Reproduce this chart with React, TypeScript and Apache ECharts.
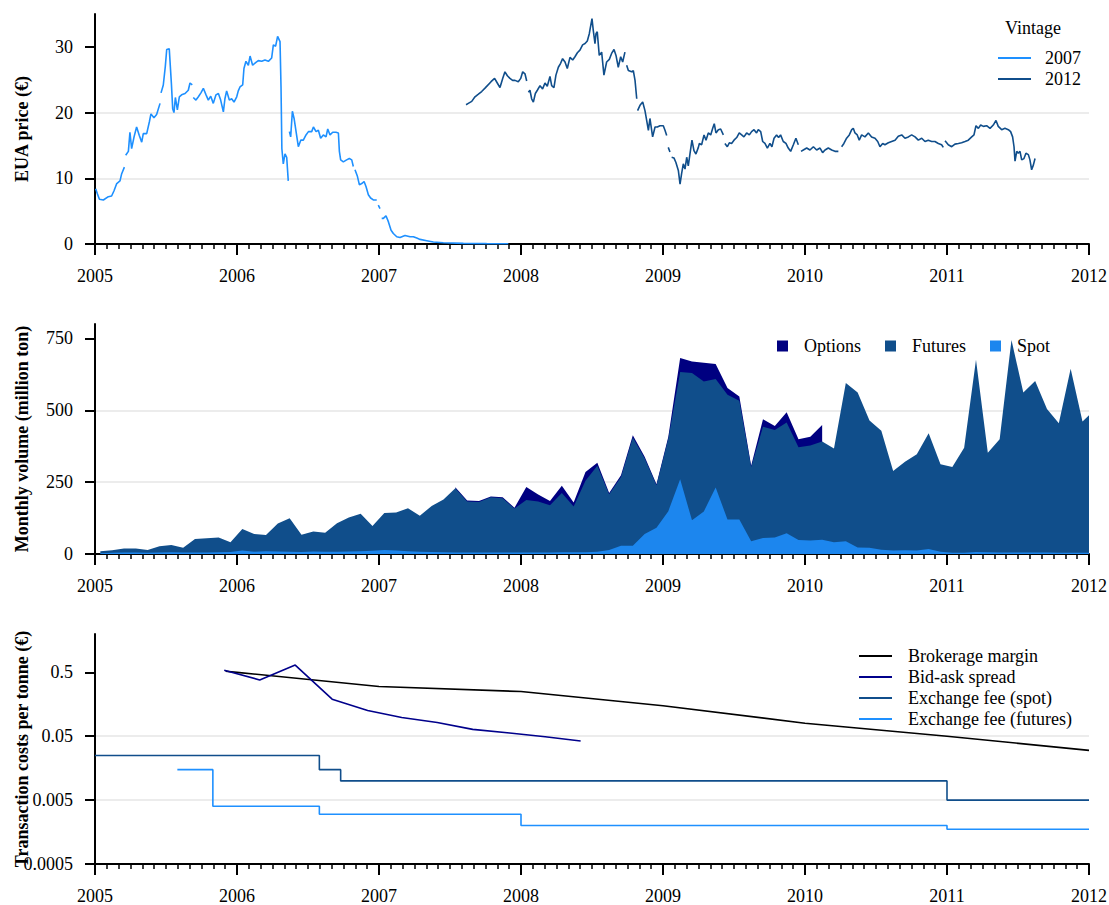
import React, { useEffect, useRef } from 'react';
import * as echarts from 'echarts';

const FONT = '"Liberation Serif", "Times New Roman", serif';

// ---------- Panel 1: EUA prices (decimal year, € per tonne); null = gap ----------
const vintage2007: [number, number | null][] = [
  [2005.005, 8.4], [2005.016, 7.7], [2005.031, 6.8], [2005.059, 6.7], [2005.094, 7.2], [2005.117, 7.3],
  [2005.134, 8.1], [2005.153, 9.2], [2005.176, 9.6], [2005.188, 10.7], [2005.207, 11.7], [2005.211, null],
  [2005.216, 13.5], [2005.235, 14.1], [2005.246, 17.0], [2005.258, 14.5], [2005.275, 16.3], [2005.293, 17.8],
  [2005.312, 16.5], [2005.329, 15.5], [2005.340, 16.8], [2005.364, 16.8], [2005.383, 18.6], [2005.394, 19.8],
  [2005.415, 19.2], [2005.434, 19.7], [2005.458, 21.4], [2005.461, null], [2005.465, 23.0], [2005.481, 24.2],
  [2005.495, 27.0], [2005.505, 29.6], [2005.523, 29.7], [2005.538, 24.4], [2005.547, 20.6], [2005.556, 20.0],
  [2005.566, 22.3], [2005.580, 20.4], [2005.594, 22.4], [2005.610, 22.7], [2005.634, 22.9], [2005.657, 23.4],
  [2005.669, 24.5], [2005.685, 24.2], [2005.688, null], [2005.692, 22.3], [2005.711, 21.9], [2005.728, 22.4],
  [2005.746, 23.0], [2005.763, 23.7], [2005.782, 22.7], [2005.798, 21.9], [2005.815, 22.5], [2005.833, 21.4],
  [2005.852, 22.7], [2005.869, 22.9], [2005.885, 21.9], [2005.904, 20.1], [2005.915, 22.1], [2005.927, 23.3],
  [2005.946, 21.9], [2005.962, 22.1], [2005.979, 21.6], [2005.998, 22.4], [2006.009, 23.3], [2006.021, 23.9],
  [2006.040, 24.2], [2006.049, 26.7], [2006.063, 27.8], [2006.080, 27.2], [2006.092, 28.6], [2006.110, 27.2],
  [2006.131, 27.6], [2006.150, 27.9], [2006.174, 27.8], [2006.197, 28.0], [2006.221, 27.8], [2006.244, 28.3],
  [2006.256, 30.3], [2006.272, 30.1], [2006.286, 31.6], [2006.303, 30.8], [2006.310, 23.9], [2006.316, 14.5],
  [2006.326, 12.2], [2006.338, 13.7], [2006.350, 13.2], [2006.361, 9.6], [2006.365, null], [2006.369, 17.1],
  [2006.378, 16.3], [2006.390, 20.2], [2006.402, 19.1], [2006.416, 17.1], [2006.432, 14.8], [2006.449, 15.8],
  [2006.467, 15.8], [2006.486, 16.6], [2006.503, 17.1], [2006.526, 17.1], [2006.538, 17.8], [2006.557, 17.1],
  [2006.573, 17.3], [2006.589, 16.1], [2006.608, 16.6], [2006.627, 16.3], [2006.639, 17.5], [2006.655, 16.6],
  [2006.674, 17.0], [2006.697, 17.0], [2006.714, 16.9], [2006.721, 14.1], [2006.730, 12.8], [2006.749, 12.5],
  [2006.772, 12.8], [2006.791, 13.0], [2006.808, 12.8], [2006.819, 11.8], [2006.825, null], [2006.831, 11.3],
  [2006.848, 10.3], [2006.862, 9.0], [2006.878, 9.2], [2006.895, 9.5], [2006.909, 8.7], [2006.925, 7.5],
  [2006.941, 7.0], [2006.960, 6.7], [2006.984, 6.7], [2006.990, null], [2006.995, 5.9], [2007.007, 5.4],
  [2007.013, null], [2007.019, 3.9], [2007.031, 3.9], [2007.049, 4.3], [2007.066, 3.4], [2007.085, 2.1],
  [2007.101, 1.6], [2007.125, 1.1], [2007.148, 1.0], [2007.183, 1.3], [2007.219, 1.1], [2007.242, 1.1],
  [2007.266, 0.9], [2007.289, 0.7], [2007.336, 0.5], [2007.383, 0.3], [2007.453, 0.2], [2007.594, 0.1],
  [2007.758, 0.05], [2007.911, 0.03],
];

const vintage2012: [number, number | null][] = [
  [2007.613, 21.2], [2007.629, 21.4], [2007.653, 21.7], [2007.676, 22.4], [2007.700, 22.8], [2007.723, 23.2],
  [2007.750, 23.8], [2007.789, 24.7], [2007.814, 25.2], [2007.833, 24.5], [2007.852, 23.8], [2007.871, 25.2],
  [2007.887, 26.2], [2007.904, 25.6], [2007.922, 25.2], [2007.941, 24.9], [2007.958, 24.9], [2007.981, 24.7],
  [2007.998, 25.2], [2008.012, 26.2], [2008.028, 25.9], [2008.040, 24.8], [2008.046, null], [2008.052, 23.1],
  [2008.063, 23.4], [2008.075, 22.1], [2008.087, 21.6], [2008.101, 22.9], [2008.115, 23.4], [2008.134, 24.1],
  [2008.152, 23.6], [2008.169, 24.5], [2008.185, 24.0], [2008.204, 25.5], [2008.216, 24.1], [2008.232, 23.8],
  [2008.246, 25.7], [2008.263, 26.9], [2008.279, 27.5], [2008.293, 28.2], [2008.310, 27.7], [2008.326, 26.7],
  [2008.345, 28.4], [2008.364, 28.0], [2008.380, 28.5], [2008.397, 29.1], [2008.415, 29.5], [2008.434, 30.3],
  [2008.451, 30.5], [2008.467, 30.9], [2008.481, 32.0], [2008.490, 33.1], [2008.500, 34.3], [2008.509, 32.5],
  [2008.521, 30.5], [2008.528, 32.0], [2008.537, 32.3], [2008.551, 28.7], [2008.568, 29.2], [2008.584, 25.7],
  [2008.603, 27.7], [2008.622, 28.1], [2008.638, 29.0], [2008.655, 29.6], [2008.669, 28.7], [2008.685, 26.9],
  [2008.702, 28.5], [2008.716, 27.7], [2008.732, 29.2], [2008.738, null], [2008.744, 27.2], [2008.756, 26.4],
  [2008.779, 26.2], [2008.791, 26.4], [2008.803, 24.9], [2008.815, 22.1], [2008.818, null], [2008.821, 20.3],
  [2008.838, 21.1], [2008.857, 21.6], [2008.873, 20.3], [2008.885, 18.8], [2008.897, 17.3], [2008.908, 19.1],
  [2008.927, 16.3], [2008.944, 17.8], [2008.960, 17.8], [2008.979, 18.0], [2009.002, 18.0], [2009.014, 17.3],
  [2009.026, 16.5], [2009.031, null], [2009.037, 14.7], [2009.049, 14.0], [2009.055, null], [2009.061, 13.2],
  [2009.077, 13.1], [2009.091, 12.4], [2009.108, 11.2], [2009.120, 9.1], [2009.131, 10.7], [2009.143, 12.2],
  [2009.155, 11.4], [2009.167, 13.2], [2009.178, 11.9], [2009.190, 13.7], [2009.204, 15.8], [2009.218, 14.2],
  [2009.232, 13.7], [2009.249, 14.7], [2009.256, 15.3], [2009.272, 15.1], [2009.289, 16.6], [2009.303, 15.8],
  [2009.319, 16.9], [2009.336, 16.6], [2009.350, 17.6], [2009.361, 18.3], [2009.373, 16.9], [2009.390, 17.4],
  [2009.406, 17.5], [2009.425, 16.6], [2009.430, null], [2009.436, 15.3], [2009.453, 14.8], [2009.467, 15.4],
  [2009.483, 15.3], [2009.500, 15.8], [2009.519, 16.2], [2009.537, 16.9], [2009.554, 16.6], [2009.570, 16.3],
  [2009.589, 16.9], [2009.608, 16.6], [2009.624, 17.1], [2009.641, 17.4], [2009.659, 16.9], [2009.671, 17.4],
  [2009.688, 17.1], [2009.702, 15.6], [2009.718, 15.3], [2009.735, 14.6], [2009.753, 15.3], [2009.767, 14.8],
  [2009.782, 16.1], [2009.800, 16.6], [2009.814, 16.2], [2009.828, 16.6], [2009.847, 15.6], [2009.866, 15.3],
  [2009.882, 14.6], [2009.899, 14.1], [2009.918, 15.1], [2009.936, 16.1], [2009.953, 15.1], [2009.962, null],
  [2009.972, 14.1], [2009.988, 14.3], [2010.012, 14.6], [2010.035, 14.3], [2010.059, 14.8], [2010.082, 14.3],
  [2010.106, 14.6], [2010.124, 13.9], [2010.141, 14.3], [2010.164, 14.6], [2010.188, 14.3], [2010.211, 14.1],
  [2010.235, 14.1], [2010.246, null], [2010.258, 14.8], [2010.274, 15.3], [2010.293, 16.1], [2010.312, 16.6],
  [2010.329, 17.4], [2010.340, 17.6], [2010.352, 16.9], [2010.368, 16.6], [2010.382, 15.8], [2010.399, 16.6],
  [2010.422, 16.3], [2010.446, 16.9], [2010.469, 16.3], [2010.493, 16.1], [2010.512, 15.6], [2010.528, 14.8],
  [2010.547, 15.3], [2010.563, 15.1], [2010.587, 15.4], [2010.610, 15.6], [2010.634, 15.8], [2010.657, 16.4],
  [2010.681, 16.6], [2010.704, 16.1], [2010.728, 16.3], [2010.751, 16.6], [2010.775, 16.3], [2010.798, 15.8],
  [2010.822, 16.1], [2010.845, 15.6], [2010.868, 15.8], [2010.892, 15.6], [2010.915, 15.6], [2010.939, 15.3],
  [2010.962, 15.1], [2010.974, 14.7], [2010.980, null], [2010.986, 15.7], [2011.009, 15.1], [2011.033, 14.8],
  [2011.056, 15.2], [2011.080, 15.3], [2011.103, 15.4], [2011.127, 15.6], [2011.150, 15.8], [2011.174, 16.3],
  [2011.190, 16.6], [2011.204, 18.0], [2011.221, 17.6], [2011.237, 18.1], [2011.256, 17.9], [2011.279, 18.0],
  [2011.303, 17.6], [2011.326, 18.1], [2011.345, 18.8], [2011.361, 17.9], [2011.385, 17.4], [2011.408, 17.6],
  [2011.432, 17.4], [2011.448, 17.1], [2011.462, 16.3], [2011.472, 14.8], [2011.479, 12.6], [2011.491, 14.1],
  [2011.502, 13.8], [2011.514, 14.1], [2011.526, 12.8], [2011.542, 13.0], [2011.556, 13.8], [2011.573, 13.6],
  [2011.584, 12.8], [2011.596, 11.3], [2011.608, 12.0], [2011.620, 13.0],
];

// ---------- Panel 2: monthly volumes (million ton), Jan 2005 .. Jan 2012 ----------
const volumeStartYear = 2005;
const spotVolume = [
  3, 4, 5, 5, 4, 5, 6, 5, 5, 5, 6, 7,
  12, 8, 10, 9, 8, 7, 9, 8, 8, 9, 10, 11,
  14, 12, 10, 8, 7, 6, 5, 5, 5, 5, 5, 5,
  5, 5, 5, 6, 6, 6, 8, 14, 29, 29, 70, 91,
  149, 260, 117, 148, 231, 120, 120, 44, 56, 57, 72, 49,
  47, 50, 41, 44, 23, 22, 15, 12, 13, 12, 17, 8,
  4, 4, 7, 6, 5, 5, 5, 5, 5, 4, 4, 4,
  4,
];
const futuresVolume = [
  7, 9, 14, 14, 10, 22, 25, 17, 47, 50, 51, 34,
  75, 62, 56, 97, 116, 60, 69, 66, 99, 118, 130, 86,
  129, 132, 149, 125, 160, 184, 224, 178, 176, 192, 189, 153,
  183, 178, 165, 206, 159, 249, 299, 194, 239, 376, 263, 148,
  253, 373, 513, 452, 378, 434, 413, 259, 387, 374, 385, 322,
  330, 341, 326, 551, 539, 442, 414, 277, 308, 335, 403, 304,
  299, 366, 669, 346, 394, 739, 557, 597, 499, 451, 640, 457,
  496,
];
const optionsVolume: (number | null)[] = [
  null, null, null, null, null, null, null, null, null, null, null, null,
  null, null, null, null, null, null, null, null, null, null, null, null,
  null, null, null, null, null, null, 3, 3, 3, 3, 3, 3,
  45, 24, 14, 25, 14, 30, 10, 4, 6, 8, 5, 4,
  6, 49, 40, 65, 52, 23, 15, 4, 26, 14, 36, 28,
  31, 58, null, null, null, null, null, null, null, null, null, null,
  null, null, null, null, null, null, null, null, null, null, null, null,
  null,
];

// ---------- Panel 3: transaction costs per tonne (€) ----------
const brokerageYears = [2005.92, 2006, 2007, 2008, 2009, 2010, 2011, 2012];
const brokerageMargin = [0.52, 0.5, 0.3, 0.25, 0.15, 0.08, 0.05, 0.03];
const bidAskYears = [2005.91, 2006.16, 2006.41, 2006.67, 2006.92, 2007.16, 2007.41, 2007.66, 2007.92, 2008.17, 2008.42];
const bidAskSpread = [0.54, 0.38, 0.65, 0.19, 0.126, 0.098, 0.082, 0.064, 0.056, 0.049, 0.042];
const spotFeeYears = [2005, 2006.58, 2006.73, 2011, 2012];
const spotFee = [0.025, 0.015, 0.01, 0.005, 0.005];
const futuresFeeYears = [2005.58, 2005.83, 2006.58, 2008, 2011, 2012];
const futuresFee = [0.015, 0.004, 0.003, 0.002, 0.00175, 0.00175];

// ---------- Axis ticks ----------
const priceTicks = [0, 10, 20, 30];
const volumeTicks = [0, 250, 500, 750];
const costTicks = [0.0005, 0.005, 0.05, 0.5];
const costTickLabels = ['0.0005', '0.005', '0.05', '0.5'];

const C_LIGHT = '#1E90FF';
const C_DARK = '#104E8B';
const C_NAVY = '#000080';
const C_SPOT = '#1C86EE';

// log position relative to lowest tick (decades)
const logPos = (v: number) => Math.log10(v / costTicks[0]);
const monthX = (i: number) => volumeStartYear + (i + 0.45) / 12;
const gapVal = (v: number | null) => (v == null ? '-' : v);

const GRID_LEFT = 95;
const GRID_RIGHT = 20;

function xAxisFor(gridIndex: number) {
  return {
    type: 'value',
    gridIndex,
    min: 2005,
    max: 2012,
    interval: 1,
    axisLine: { show: true, onZero: false, lineStyle: { color: '#000', width: 2 } },
    axisTick: { show: true, length: 11, lineStyle: { color: '#000', width: 2 } },
    minorTick: { show: true, splitNumber: 12, length: 5, lineStyle: { color: '#000', width: 1.5 } },
    axisLabel: {
      margin: 23,
      fontFamily: FONT,
      fontSize: 18,
      color: '#000',
      formatter: (v: number) => String(Math.round(v)),
    },
    splitLine: { show: false },
    minorSplitLine: { show: false },
  };
}

function yAxisFor(gridIndex: number, max: number, ticks: number[], name: string, fmt: (v: number) => string) {
  return {
    type: 'value',
    gridIndex,
    min: 0,
    max,
    name,
    nameLocation: 'middle',
    nameGap: 64,
    nameMoveOverlap: false,
    nameTextStyle: { fontFamily: FONT, fontSize: 18, fontWeight: 'bold', color: '#000' },
    axisLine: { show: true, onZero: false, lineStyle: { color: '#000', width: 2 } },
    axisTick: { show: true, length: 10, customValues: ticks, lineStyle: { color: '#000', width: 2 } },
    axisLabel: { customValues: ticks, margin: 22, fontFamily: FONT, fontSize: 18, color: '#000', formatter: fmt },
    splitLine: { show: true, showMaxLine: false, lineStyle: { color: '#E6E6E6', width: 1.5 } },
  };
}

const legendText = (pad: number) => ({
  fontFamily: FONT,
  fontSize: 18,
  color: '#000',
  lineHeight: 20,
  padding: [0, 0, 0, pad],
});

const gridBox = (top: number) => ({
  left: GRID_LEFT,
  right: GRID_RIGHT,
  top,
  height: 230,
  containLabel: false,
  outerBoundsMode: 'none',
});

const option = {
  animation: false,
  backgroundColor: '#fff',
  textStyle: { fontFamily: FONT },
  grid: [gridBox(14), gridBox(324), gridBox(634)],
  xAxis: [xAxisFor(0), xAxisFor(1), xAxisFor(2)],
  yAxis: [
    yAxisFor(0, 35, priceTicks, 'EUA price (€)', (v) => String(v)),
    yAxisFor(1, 800, volumeTicks, 'Monthly volume (million ton)', (v) => String(v)),
    yAxisFor(2, 3.6, costTicks.map(logPos), 'Transaction costs per tonne (€)', (v) => costTickLabels[Math.round(v)] ?? ''),
  ],
  legend: [
    {
      data: ['2007', '2012'],
      orient: 'vertical',
      left: 998,
      top: 48,
      padding: 0,
      icon: 'rect',
      itemWidth: 33,
      itemHeight: 2,
      itemGap: 1,
      selectedMode: false,
      textStyle: legendText(9),
    },
    {
      data: ['Options', 'Futures', 'Spot'],
      orient: 'horizontal',
      left: 777,
      top: 336,
      padding: 0,
      icon: 'rect',
      itemWidth: 11,
      itemHeight: 11,
      itemGap: 24,
      selectedMode: false,
      textStyle: legendText(11),
    },
    {
      data: ['Brokerage margin', 'Bid-ask spread', 'Exchange fee (spot)', 'Exchange fee (futures)'],
      orient: 'vertical',
      left: 859,
      top: 646,
      padding: 0,
      icon: 'rect',
      itemWidth: 33,
      itemHeight: 2,
      itemGap: 1,
      selectedMode: false,
      textStyle: legendText(11),
    },
  ],
  graphic: [
    {
      type: 'text',
      left: 1005,
      top: 19,
      style: { text: 'Vintage', fontFamily: FONT, fontSize: 18, fill: '#000' },
    },
  ],
  series: [
    {
      name: '2007', type: 'line', xAxisIndex: 0, yAxisIndex: 0, symbol: 'none', connectNulls: false,
      color: C_LIGHT, lineStyle: { color: C_LIGHT, width: 1.6 },
      data: vintage2007.map(([t, p]) => [t, gapVal(p)]),
    },
    {
      name: '2012', type: 'line', xAxisIndex: 0, yAxisIndex: 0, symbol: 'none', connectNulls: false,
      color: C_DARK, lineStyle: { color: C_DARK, width: 1.6 },
      data: vintage2012.map(([t, p]) => [t, gapVal(p)]),
    },
    {
      name: 'Options', type: 'line', xAxisIndex: 1, yAxisIndex: 1, symbol: 'none', connectNulls: false,
      color: C_NAVY, lineStyle: { width: 0 }, areaStyle: { color: C_NAVY, opacity: 1 },
      data: optionsVolume.map((o, i) => [monthX(i), o == null ? '-' : spotVolume[i] + futuresVolume[i] + o]),
    },
    {
      name: 'Futures', type: 'line', xAxisIndex: 1, yAxisIndex: 1, symbol: 'none',
      color: C_DARK, lineStyle: { width: 0 }, areaStyle: { color: C_DARK, opacity: 1 },
      data: futuresVolume.map((f, i) => [monthX(i), spotVolume[i] + f]),
    },
    {
      name: 'Spot', type: 'line', xAxisIndex: 1, yAxisIndex: 1, symbol: 'none',
      color: C_SPOT, lineStyle: { width: 0 }, areaStyle: { color: C_SPOT, opacity: 1 },
      data: spotVolume.map((s, i) => [monthX(i), s]),
    },
    {
      name: 'Brokerage margin', type: 'line', xAxisIndex: 2, yAxisIndex: 2, symbol: 'none',
      color: '#000', lineStyle: { color: '#000', width: 1.6 },
      data: brokerageYears.map((t, i) => [t, logPos(brokerageMargin[i])]),
    },
    {
      name: 'Bid-ask spread', type: 'line', xAxisIndex: 2, yAxisIndex: 2, symbol: 'none',
      color: '#00008B', lineStyle: { color: '#00008B', width: 1.6 },
      data: bidAskYears.map((t, i) => [t, logPos(bidAskSpread[i])]),
    },
    {
      name: 'Exchange fee (spot)', type: 'line', xAxisIndex: 2, yAxisIndex: 2, symbol: 'none', step: 'end',
      color: C_DARK, lineStyle: { color: C_DARK, width: 1.6 },
      data: spotFeeYears.map((t, i) => [t, logPos(spotFee[i])]),
    },
    {
      name: 'Exchange fee (futures)', type: 'line', xAxisIndex: 2, yAxisIndex: 2, symbol: 'none', step: 'end',
      color: C_LIGHT, lineStyle: { color: C_LIGHT, width: 1.6 },
      data: futuresFeeYears.map((t, i) => [t, logPos(futuresFee[i])]),
    },
  ],
};

export default function App() {
  const ref = useRef<HTMLDivElement>(null);
  useEffect(() => {
    if (!ref.current) return;
    const chart = echarts.init(ref.current, null, { renderer: 'svg' });
    chart.setOption(option as any);
    return () => chart.dispose();
  }, []);
  return (
    <div
      ref={ref}
      style={{ position: 'fixed', left: 0, top: 0, width: 1109, height: 905, background: '#fff' }}
    />
  );
}
